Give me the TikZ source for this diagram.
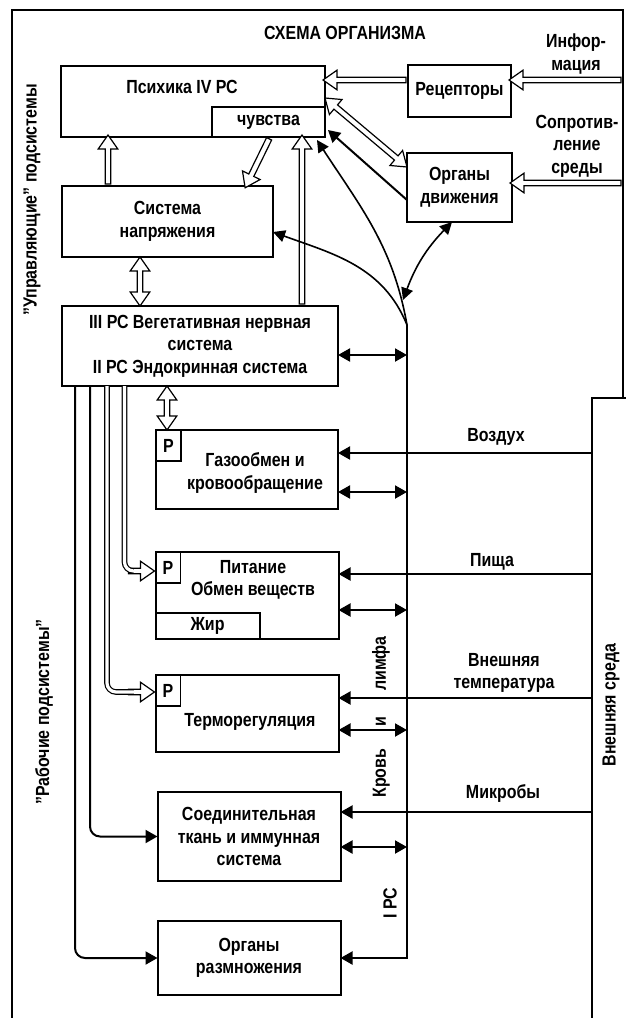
\documentclass[tikz,border=0pt]{standalone}
\usepackage{fontspec}
\setmainfont{Liberation Sans}[FakeStretch=0.84]
\usetikzlibrary{arrows.meta, positioning, calc, shapes.arrows}
\tikzset{%
	box/.style={draw, line width=2pt, rectangle, inner sep=0pt, outer sep=0pt, align=center, anchor=north west},
	pbox/.style={draw, line width=1.6pt, rectangle, outer sep=0pt, minimum width=25pt, minimum height=31pt, anchor=north west},
	txt/.style={align=center, inner sep=0pt},
	vtxt/.style={inner sep=0pt, rotate=90},
	frame/.style={line width=1.6pt},
	link/.style={line width=2pt, -{Triangle[length=12pt, width=13pt]}},
	both/.style={line width=2pt, {Triangle[length=12pt, width=13pt]}-{Triangle[length=12pt, width=13pt]}},
	bow/.style={line width=1.6pt, -{Triangle[length=12pt, width=12pt]}},
	hollow/.style={draw, line width=1.2pt, fill=white, single arrow, inner xsep=0pt, inner ysep=2.2pt,
		single arrow head extend=7pt, single arrow tip angle=70, minimum height=#1},
	dhollow/.style={draw, line width=1.2pt, fill=white, double arrow, inner xsep=0pt, inner ysep=2.2pt,
		double arrow head extend=7pt, double arrow tip angle=70, minimum height=#1},
	shaft/.style={double, double distance=3.2pt, line width=1.2pt, rounded corners=9pt},
	hto/.style={to path={let \p1=($(\tikztotarget)-(\tikztostart)$), \n1={veclen(\x1,\y1)} in
		(\tikztostart) -- (\tikztotarget) node[midway, sloped, allow upside down, hollow=\n1] {}}},
	dhto/.style={to path={let \p1=($(\tikztotarget)-(\tikztostart)$), \n1={veclen(\x1,\y1)} in
		(\tikztostart) -- (\tikztotarget) node[midway, sloped, allow upside down, dhollow=\n1] {}}}
}

\begin{document}
\begin{tikzpicture}[x=1pt, y=1pt, font=\fontsize{19}{22.5}\selectfont\bfseries]
	\useasboundingbox (0,0) rectangle (626,-1018);

	% frame and outer world
	\draw[frame] (12,-1018) -- (12,-10) -- (623,-10) -- (623,-398);
	\node[txt] (title) at (345,-33) {СХЕМА ОРГАНИЗМА};
	\node[draw, frame, outer sep=0pt, anchor=north west, minimum width=60pt, minimum height=700pt] (env) at (592,-398) {};
	\node[vtxt] (envlbl) at (611,-705) {Внешняя среда};

	% control subsystems
	\node[box, minimum width=264pt, minimum height=71pt] (psy) at (61,-66) {};
	\node[txt] (psylbl) at (182,-87) {Психика IV РС};
	\node[box, minimum width=113pt, minimum height=30pt, anchor=south east] (feel) at (psy.south east) {чувства};
	\node[box, minimum width=211pt, minimum height=71pt] (sys) at (62,-186) {Система\\напряжения};
	\node[box, minimum width=276pt, minimum height=80pt] (veg) at (62,-306)
		{III РС Вегетативная нервная\\система\\II РС Эндокринная система};
	\node[box, minimum width=103pt, minimum height=52pt] (rec) at (408,-65) {Рецепторы};
	\node[box, minimum width=105pt, minimum height=69pt] (mov) at (407,-153) {Органы\\движения};

	% working subsystems
	\node[box, minimum width=182pt, minimum height=79pt] (gas) at (156,-430) {};
	\node[box, minimum width=183pt, minimum height=87pt, below=43pt of gas] (food) {};
	\node[box, minimum width=183pt, minimum height=77pt, below=36pt of food] (therm) {};
	\node[box, minimum width=183pt, minimum height=89pt, below=40pt of therm, xshift=2pt] (tissue)
		{Соединительная\\ткань и иммунная\\система};
	\node[box, minimum width=183pt, minimum height=74pt, below=40pt of tissue] (repro) {Органы\\размножения};
	\node[pbox] (pgas) at (gas.north west) {Р};
	\node[pbox] (pfood) at (food.north west) {Р};
	\node[pbox] (ptherm) at (therm.north west) {Р};
	\node[box, minimum width=104pt, minimum height=26pt, anchor=south west] (fat) at (food.south west) {Жир};
	\node[txt] (gaslbl) at (255,-473) {Газообмен и\\кровообращение};
	\node[txt] (foodlbl) at (253,-580) {Питание\\Обмен веществ};
	\node[txt] (thermlbl) at (250,-722) {Терморегуляция};

	% side labels
	\node[vtxt] (ctrl) at (32,-200) {"Управляющие" подсистемы};
	\node[vtxt] (work) at (44,-712) {"Рабочие подсистемы"};
	\node[vtxt] (fluid) at (381,-717) {Кровь\hspace{22pt}и\hspace{26pt}лимфа};
	\node[vtxt] (rc1) at (390,-903) {I РС};

	% hollow arrows
	\path (sys.north -| 108,0) to[hto] (psy.south -| 108,0);
	\path (feel.south -| 270,0) to[hto] (sys.north -| 246,0);
	\path (veg.north -| 302,0) to[hto] (psy.south -| 302,0);
	\path (rec.west |- 0,-80) to[hto] (psy.east |- 0,-80);
	\coordinate (info) at (623,-80);
	\path (info) to[hto] (rec.east |- info);
	\coordinate (resist) at (623,-183);
	\path (resist) to[hto] (mov.east |- resist);
	\path (psy.east |- 0,-98) to[dhto] (mov.west |- 0,-167);
	\path (sys.south -| 140,0) to[dhto] (veg.north -| 140,0);
	\path (veg.south -| 167,0) to[dhto] (gas.north -| 167,0);
	\node[txt] (infolbl) at (576,-54) {Инфор-\\мация};
	\node[txt] (resistlbl) at (577,-146) {Сопротив-\\ление\\среды};

	\node[hollow=26pt, anchor=tip] (foodhead) at (food.west |- 0,-571) {};
	\draw[shaft] (veg.south -| 124.5,0) |- ($(foodhead.tail)+(6,0)$);
	\node[hollow=26pt, anchor=tip] (thermhead) at (therm.west |- 0,-692) {};
	\draw[shaft] (veg.south -| 107,0) |- ($(thermhead.tail)+(6,0)$);
	\draw[link, rounded corners=10pt] (veg.south -| 75,0) |- (repro.west);
	\draw[link, rounded corners=10pt] (veg.south -| 90,0) |- (tissue.west);

	% blood and lymph
	\coordinate (blood) at (407,-325);
	\draw[link] (blood) |- (repro.east);
	\draw[bow] (blood) to[out=100, in=-57] ($(psy.south east)+(-8,-3)$);
	\draw[bow] (blood) to[out=112, in=-20] ($(sys.south east)+(0,25)$);
	\draw[link] ($(mov.south west)+(0,22)$) -- ($(psy.south east)+(3,7)$);
	\draw[line width=1.6pt, {Triangle[length=12pt, width=12pt]}-{Triangle[length=12pt, width=12pt]}]
		($(mov.south west)+(45,0)$) to[bend right=12] ($(blood)+(-4,25)$);
	\draw[both] (veg.east |- 0,-355) -- (blood |- 0,-355);
	\draw[both] (gas.east |- 0,-492) -- (blood |- 0,-492);
	\draw[both] (food.east |- 0,-610) -- (blood |- 0,-610);
	\draw[both] (therm.east |- 0,-730) -- (blood |- 0,-730);
	\draw[both] (tissue.east |- 0,-847) -- (blood |- 0,-847);

	% inputs from outside
	\draw[link] (env.west |- 0,-453) -- (gas.east |- 0,-453);
	\node[txt] (air) at (496,-437) {Воздух};
	\draw[link] (env.west |- 0,-574) -- (food.east |- 0,-574);
	\node[txt] (meal) at (492,-562) {Пища};
	\draw[link] (env.west |- 0,-698) -- (therm.east |- 0,-698);
	\node[txt] (temp) at (504,-673) {Внешняя\\температура};
	\draw[link] (env.west |- 0,-812) -- (tissue.east |- 0,-812);
	\node[txt] (germ) at (503,-793) {Микробы};
\end{tikzpicture}
\end{document}
